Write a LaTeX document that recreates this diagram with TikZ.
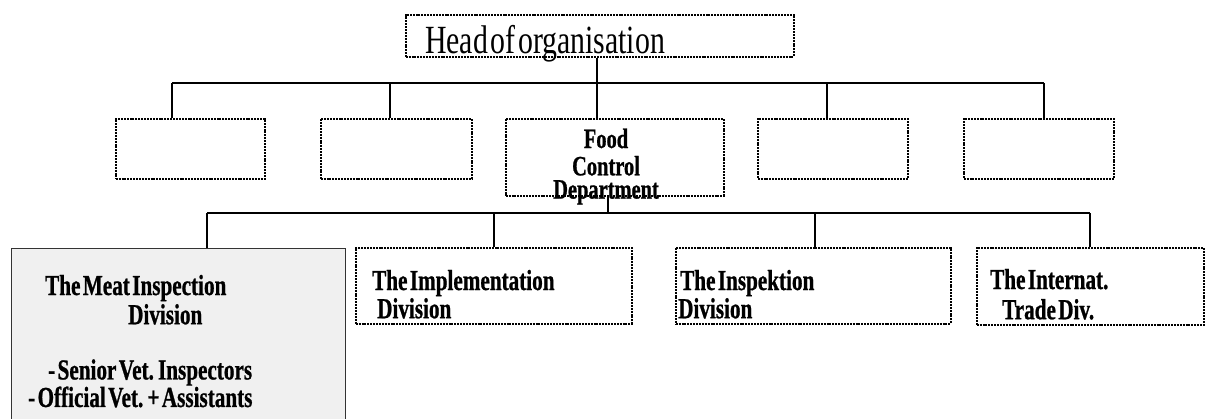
\documentclass[tikz,border=0pt]{standalone}
\usepackage{fontspec}
\newfontfamily\headfont[FakeStretch=0.745,WordSpace=0.35]{Liberation Serif}
\newfontfamily\lblfont[FakeStretch=0.73,FakeBold=0.8,WordSpace=0.45,UprightFont={* Bold}]{Liberation Serif}
\begin{document}
\begin{tikzpicture}[x=1pt,y=-1pt,
  unitbox/.style={draw=black,line width=1.5pt,dash pattern=on 2pt off 0.9pt,
    rectangle,inner sep=0pt,anchor=north west},
  meatbox/.style={draw=black!80,line width=1.4pt,fill=black!6,rectangle,
    inner sep=0pt,anchor=north west},
  conn/.style={draw=black,line width=1.5pt},
  headtxt/.style={font=\headfont\fontsize{40}{40}\selectfont,inner sep=0pt,anchor=base west},
  lbl/.style={font=\lblfont\fontsize{29}{27}\selectfont,inner sep=0pt,anchor=base west}]
\useasboundingbox (0,0) rectangle (1206,418);
\clip (0,0) rectangle (1206,418);

% top level
\node[unitbox,minimum width=388pt,minimum height=42pt] (head) at (405,14) {};
\node[headtxt] (headlbl) at (425,53) {Head of organisation};

% second level
\node[unitbox,minimum width=149pt,minimum height=60pt] (b1) at (115,118) {};
\node[unitbox,minimum width=151pt,minimum height=60pt] (b2) at (320,118) {};
\node[unitbox,minimum width=218pt,minimum height=77pt] (food) at (505,118) {};
\node[unitbox,minimum width=150pt,minimum height=60pt] (b4) at (757,118) {};
\node[unitbox,minimum width=150pt,minimum height=60pt] (b5) at (963,118) {};
\node[lbl,font=\lblfont\fontsize{28}{23}\selectfont,anchor=base] (foodlbl) at (606,148)
  {\begin{tabular}[t]{@{}c@{}}Food\\[1pt]Control\\[-2pt]Department\end{tabular}};

% third level
\node[meatbox,minimum width=334pt,minimum height=190pt] (meat) at (11,248) {};
\node[unitbox,minimum width=276pt,minimum height=76pt] (impl) at (355,247) {};
\node[unitbox,minimum width=275pt,minimum height=76pt] (insp) at (675,247) {};
\node[unitbox,minimum width=227pt,minimum height=77pt] (intl) at (976,247) {};

\node[lbl] (meatlbl) at (28,295)
  {\begin{tabular}[t]{@{}l@{}}\hspace*{17pt}The Meat Inspection\\[1pt]
   \hspace*{100pt}Division\\[27pt]
   \hspace*{20pt}- Senior Vet. Inspectors\\[-1pt]
   - Official Vet. + Assistants\end{tabular}};
\node[lbl] (impllbl) at (372,290)
  {\begin{tabular}[t]{@{}l@{}}The Implementation\\\hspace*{5pt}Division\end{tabular}};
\node[lbl] (insplbl) at (678,290)
  {\begin{tabular}[t]{@{}l@{}}\hspace*{2pt}The Inspektion\\Division\end{tabular}};
\node[lbl] (intllbl) at (990,289)
  {\begin{tabular}[t]{@{}l@{}}The Internat.\\[2pt]\hspace*{12pt}Trade Div.\end{tabular}};

% upper bus
\coordinate (t1) at (172,83);
\coordinate (t2) at (390,83);
\coordinate (t3) at (597,83);
\coordinate (t4) at (827,83);
\coordinate (t5) at (1044,83);
\draw[conn] (t1) -- (t5);
\draw[conn] (head.south -| t3) -- (t3);
\draw[conn] (t1) -- (b1.north -| t1);
\draw[conn] (t2) -- (b2.north -| t2);
\draw[conn] (t3) -- (food.north -| t3);
\draw[conn] (t4) -- (b4.north -| t4);
\draw[conn] (t5) -- (b5.north -| t5);

% lower bus
\coordinate (u1) at (207,213);
\coordinate (u2) at (494,213);
\coordinate (uf) at (608,213);
\coordinate (u3) at (815,213);
\coordinate (u4) at (1090,213);
\draw[conn] (u1) -- (u4);
\draw[conn] (food.south -| uf) -- (uf);
\draw[conn] (u1) -- (meat.north -| u1);
\draw[conn] (u2) -- (impl.north -| u2);
\draw[conn] (u3) -- (insp.north -| u3);
\draw[conn] (u4) -- (intl.north -| u4);
\end{tikzpicture}
\end{document}
